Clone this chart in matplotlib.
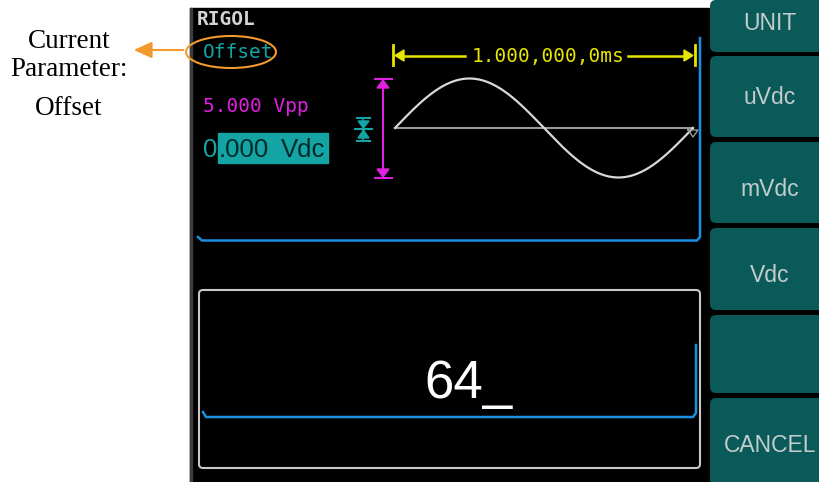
import matplotlib.pyplot as plt
import numpy as np
from matplotlib.patches import Rectangle, FancyBboxPatch, Ellipse, Polygon

# Screen content
brand = 'RIGOL'
param_name = 'Offset'
amplitude_text = '5.000 Vpp'
offset_digits = ['0', '.000', 'Vdc']
period_text = '1.000,000,0ms'
input_text = '64_'
button_labels = ['UNIT', 'uVdc', 'mVdc', 'Vdc', '', 'CANCEL']
callout_lines = ['Current', 'Parameter:', 'Offset']

# Colours
black = '#000000'
teal = '#14a4a4'
magenta = '#e020e0'
yellow = '#e6e600'
blue = '#1a90e0'
button_col = '#0a5a5a'
button_txt = '#c4cccc'
orange = '#f29a2e'
wave_col = '#d8d8d8'

mono = ['DejaVu Sans Mono']
sans = ['Liberation Sans']
serif = ['Liberation Serif']

fig = plt.figure(figsize=(8.2, 4.82), dpi=100)
ax = fig.add_axes([0, 0, 1, 1])
ax.set_xlim(0, 820)
ax.set_ylim(482, 0)
ax.axis('off')

# Screen background and left border
ax.add_patch(Rectangle((190, 8), 630, 474, color=black, zorder=0))
ax.add_patch(Rectangle((190, 8), 2.5, 474, color='#3c3c3c', zorder=1))

# Soft buttons on the right
btn_top = [0, 56, 142, 228, 315, 398]
btn_bot = [52, 137, 223, 310, 393, 486]
for lab, t, b in zip(button_labels, btn_top, btn_bot):
    ax.add_patch(FancyBboxPatch((710, t), 120, b - t,
                                boxstyle='round,pad=0,rounding_size=6',
                                fc=button_col, ec='none', zorder=2))
label_y = [24, 98, 190, 275, 354, 446]
for lab, y in zip(button_labels, label_y):
    ax.text(770, y, lab, color=button_txt, family=sans, fontsize=16.5,
            ha='center', va='center', zorder=3)

# Header texts
ax.text(197, 25, brand, color='#d4d4d4', family=mono, fontsize=14,
        fontweight='bold', va='baseline', ha='left')
ax.text(203, 58, param_name, color=teal, family=mono, fontsize=14,
        va='baseline', ha='left')
ax.text(203, 112, amplitude_text, color=magenta, family=mono, fontsize=14,
        va='baseline', ha='left')

# Offset value with highlighted cursor part
ax.add_patch(Rectangle((218, 133), 110, 30, color=teal, zorder=2))
ax.text(203, 157, offset_digits[0], color=teal, family=sans, fontsize=18.5,
        va='baseline', ha='left', zorder=3)
ax.text(218.5, 157, offset_digits[1], color='#002a2a', family=sans,
        fontsize=18.5, va='baseline', ha='left', zorder=3)
ax.text(281, 157, offset_digits[2], color='#002a2a', family=sans,
        fontsize=18.5, va='baseline', ha='left', zorder=3)

# Offset marker (teal)
ax.plot([363.5, 363.5], [118, 141], color=teal, lw=1.2)
ax.plot([357, 370], [118, 118], color=teal, lw=1.5)
ax.plot([355, 372], [129, 129], color=teal, lw=1.5)
ax.plot([357, 370], [141, 141], color=teal, lw=1.5)
ax.add_patch(Polygon([[358, 121], [369, 121], [363.5, 128]], color=teal))
ax.add_patch(Polygon([[358, 138], [369, 138], [363.5, 130]], color=teal))

# Amplitude marker (magenta)
ax.plot([383, 383], [79, 178], color=magenta, lw=1.5)
ax.plot([375, 392], [79, 79], color=magenta, lw=1.5)
ax.plot([375, 392], [178, 178], color=magenta, lw=1.5)
ax.add_patch(Polygon([[383, 80], [377, 88], [389, 88]], color=magenta))
ax.add_patch(Polygon([[383, 177], [377, 169], [389, 169]], color=magenta))

# Period marker (yellow)
ax.plot([393, 393], [45, 65], color=yellow, lw=2)
ax.plot([695, 695], [45, 65], color=yellow, lw=2)
ax.add_patch(Polygon([[395, 55.5], [404, 50], [404, 61]], color=yellow))
ax.add_patch(Polygon([[693, 55.5], [684, 50], [684, 61]], color=yellow))
ax.plot([403, 465], [55.5, 55.5], color=yellow, lw=1.8)
ax.plot([628, 685], [55.5, 55.5], color=yellow, lw=1.8)
ax.text(472, 62, period_text, color=yellow, family=mono, fontsize=14,
        va='baseline', ha='left')

# Waveform: one period of a sine between the period markers
w0, w1, wc, wa = 395, 693, 128, 49.5
phase = np.linspace(0, 2 * np.pi, 300)
ax.plot([w0, w1], [wc, wc], color='#9a9a9a', lw=1.5)
ax.plot(w0 + (w1 - w0) * phase / (2 * np.pi), wc - wa * np.sin(phase),
        color=wave_col, lw=1.6)
ax.plot([688, 698, 693, 688], [130, 130, 137, 130], color='#9a9a9a', lw=1)

# Upper frame (blue)
ax.plot([198, 202, 697, 700, 700], [237, 240.5, 240.5, 237, 38],
        color=blue, lw=1.8)

# Input box
ax.add_patch(FancyBboxPatch((199, 290), 501, 178,
                            boxstyle='round,pad=0,rounding_size=4',
                            fc='none', ec='#c8c8c8', lw=1.5, zorder=2))
ax.plot([203, 206, 693, 696, 696], [412, 417, 417, 413, 345],
        color=blue, lw=1.8)
ax.text(468.5, 398, input_text, color='white', family=sans,
        fontsize=38, va='baseline', ha='center')

# Callout on the left
ax.add_patch(Ellipse((231, 52), 90, 32, fc='none', ec=orange, lw=1.5,
                     zorder=4))
ax.annotate('', xy=(131, 50), xytext=(186, 50),
            arrowprops=dict(arrowstyle='-|>,head_length=1.1,head_width=0.5',
                            color=orange, lw=1.5))
for line, base in zip(callout_lines, [48, 76, 115]):
    ax.text(69, base, line, color='black', family=serif, fontsize=19.5,
            ha='center', va='baseline')

fig.savefig('out.png', dpi=100, facecolor='white')
